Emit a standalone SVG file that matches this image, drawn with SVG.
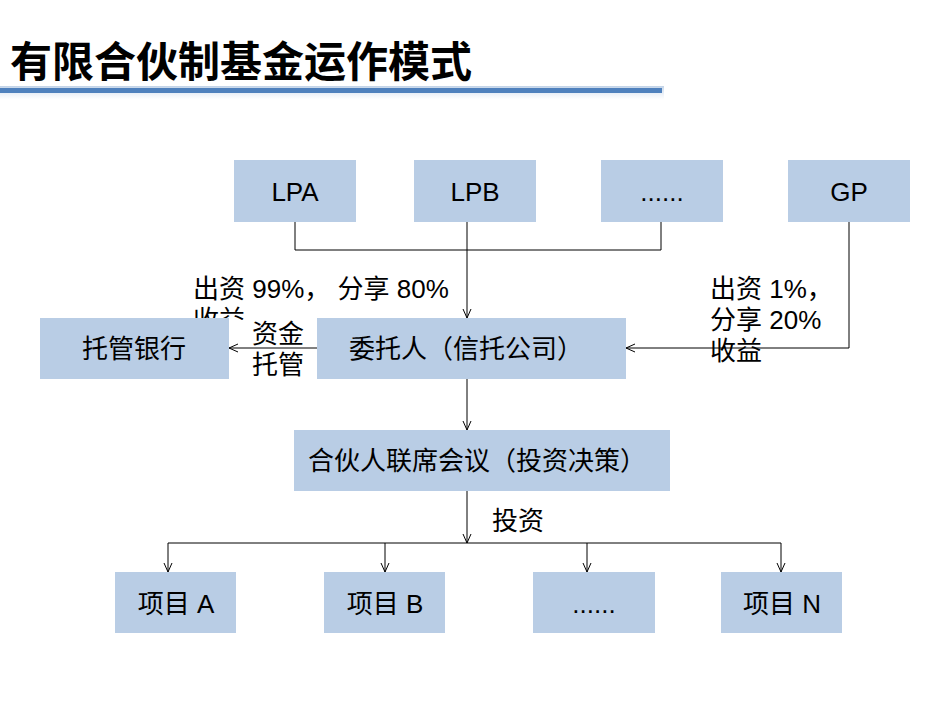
<svg xmlns="http://www.w3.org/2000/svg" width="950" height="713" viewBox="0 0 950 713">
<style>
.box{fill:#b9cde5;}
.t{font-family:"Liberation Sans","Noto Sans CJK SC",sans-serif;font-size:26px;fill:#000;}
.c{text-anchor:middle;}
.ln{fill:none;stroke:#000;stroke-width:1;}
.title{font-family:"Liberation Sans","Noto Sans CJK SC",sans-serif;font-size:42px;font-weight:bold;fill:#000;}
</style>
<defs>
<marker id="arr" markerWidth="12" markerHeight="12" refX="10" refY="5" orient="auto" markerUnits="userSpaceOnUse">
<path d="M1,1 L10,5 L1,9" fill="none" stroke="#000" stroke-width="1"/>
</marker>
<linearGradient id="glow" x1="0" y1="0" x2="0" y2="1">
<stop offset="0" stop-color="#b9cde5" stop-opacity="0.9"/>
<stop offset="1" stop-color="#dbe5f1" stop-opacity="0"/>
</linearGradient>
<clipPath id="clipShouyi"><rect x="180" y="300" width="100" height="20"/></clipPath>
</defs>
<rect width="950" height="713" fill="#fff"/>
<g id="title">
<text class="title" x="10" y="77">有限合伙制基金运作模式</text>
<rect x="0" y="86" width="664" height="14" fill="url(#glow)"/>
<rect x="0" y="88" width="662" height="5" fill="#4f81bd"/>
</g>
<g id="labels">
<text class="t" x="193" y="298">出资 99%， 分享 80%</text>
<text class="t" x="193" y="329" clip-path="url(#clipShouyi)">收益</text>
<text class="t" x="252" y="343">资金</text>
<text class="t" x="252" y="374">托管</text>
<text class="t" x="710" y="298">出资 1%，</text>
<text class="t" x="710" y="329">分享 20%</text>
<text class="t" x="710" y="360">收益</text>
<text class="t" x="492" y="530">投资</text>
</g>
<g id="connectors">
<path class="ln" d="M295,222 V250 H661 V222"/>
<path class="ln" d="M467,222 V318" marker-end="url(#arr)"/>
<path class="ln" d="M849,222 V348 H626" marker-end="url(#arr)"/>
<path class="ln" d="M317,348 H229" marker-end="url(#arr)"/>
<path class="ln" d="M467,379 V430" marker-end="url(#arr)"/>
<path class="ln" d="M467,491 V543" marker-end="url(#arr)"/>
<path class="ln" d="M168,543 H781"/>
<path class="ln" d="M168,543 V572" marker-end="url(#arr)"/>
<path class="ln" d="M385,543 V572" marker-end="url(#arr)"/>
<path class="ln" d="M587,543 V572" marker-end="url(#arr)"/>
<path class="ln" d="M781,543 V572" marker-end="url(#arr)"/>
</g>
<g id="lpa"><rect class="box" x="234" y="160" width="122" height="62"/><text class="t c" x="295" y="201">LPA</text></g>
<g id="lpb"><rect class="box" x="414" y="160" width="122" height="62"/><text class="t c" x="475" y="201">LPB</text></g>
<g id="lpmore"><rect class="box" x="601" y="160" width="122" height="62"/><text class="t c" x="662" y="201">......</text></g>
<g id="gp"><rect class="box" x="788" y="160" width="122" height="62"/><text class="t c" x="849" y="201">GP</text></g>
<g id="bank"><rect class="box" x="40" y="318" width="189" height="61"/><text class="t c" x="134" y="358">托管银行</text></g>
<g id="trustee"><rect class="box" x="317" y="318" width="309" height="61"/><text class="t c" x="466" y="358">委托人（信托公司）</text></g>
<g id="council"><rect class="box" x="294" y="430" width="376" height="61"/><text class="t c" x="477" y="470">合伙人联席会议（投资决策）</text></g>
<g id="projA"><rect class="box" x="115" y="572" width="121" height="61"/><text class="t c" x="176" y="613">项目 A</text></g>
<g id="projB"><rect class="box" x="324" y="572" width="121" height="61"/><text class="t c" x="385" y="613">项目 B</text></g>
<g id="projMore"><rect class="box" x="533" y="572" width="122" height="61"/><text class="t c" x="594" y="613">......</text></g>
<g id="projN"><rect class="box" x="721" y="572" width="121" height="61"/><text class="t c" x="782" y="613">项目 N</text></g>
</svg>
